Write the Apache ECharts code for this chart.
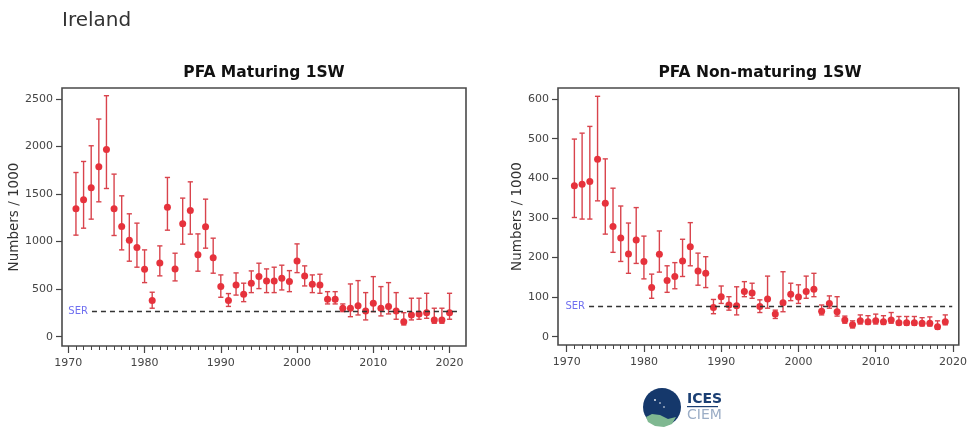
<!DOCTYPE html>
<html>
<head>
<meta charset="utf-8">
<script src="https://cdn.jsdelivr.net/npm/echarts@6/dist/echarts.min.js"></script>
<style>
  html, body { margin: 0; padding: 0; background: #ffffff; }
  #chart { width: 970px; height: 428px; }
</style>
</head>
<body>
<div id="chart"></div>
<script>
// ---------- DATA ----------
const countryTitle = 'Ireland';
const panelTitles = ['PFA Maturing 1SW', 'PFA Non-maturing 1SW'];
const yAxisName = 'Numbers / 1000';
const serLabel = 'SER';

const decadeTicks = [1970, 1980, 1990, 2000, 2010, 2020];
const yearTicks = [1970,1971,1972,1973,1974,1975,1976,1977,1978,1979,1980,1981,1982,1983,1984,1985,1986,1987,1988,1989,1990,1991,1992,1993,1994,1995,1996,1997,1998,1999,2000,2001,2002,2003,2004,2005,2006,2007,2008,2009,2010,2011,2012,2013,2014,2015,2016,2017,2018,2019,2020];
const yTicksMat = [0, 500, 1000, 1500, 2000, 2500];
const yTicksNon = [0, 100, 200, 300, 400, 500, 600];

// Maturing 1SW (1971-2020)
const yearsMat = [1971,1972,1973,1974,1975,1976,1977,1978,1979,1980,1981,1982,1983,1984,1985,1986,1987,1988,1989,1990,1991,1992,1993,1994,1995,1996,1997,1998,1999,2000,2001,2002,2003,2004,2005,2006,2007,2008,2009,2010,2011,2012,2013,2014,2015,2016,2017,2018,2019,2020];
const midMat = [1343,1438,1564,1785,1967,1343,1157,1014,936,709,379,775,1361,712,1186,1326,860,1155,830,526,380,542,446,562,631,586,586,614,579,796,638,551,544,393,393,299,299,326,270,351,299,316,270,158,228,239,252,176,176,252];
const lowMat = [1067,1140,1235,1417,1557,1063,912,793,730,568,299,639,1119,586,972,1077,688,930,667,414,318,437,368,463,505,463,463,491,473,673,533,463,456,344,344,263,210,228,176,263,218,239,183,123,176,183,193,141,141,183];
const highMat = [1725,1841,2006,2287,2532,1708,1480,1291,1193,912,467,954,1673,877,1456,1627,1080,1445,1035,649,453,670,562,691,772,712,730,751,694,975,744,649,656,473,473,344,554,589,463,631,526,568,463,252,404,404,456,299,299,456];
const serMat = 265;
const serMatSpan = [1973.1, 2021.3];

// Non-maturing 1SW (1971-2019)
const yearsNon = [1971,1972,1973,1974,1975,1976,1977,1978,1979,1980,1981,1982,1983,1984,1985,1986,1987,1988,1989,1990,1991,1992,1993,1994,1995,1996,1997,1998,1999,2000,2001,2002,2003,2004,2005,2006,2007,2008,2009,2010,2011,2012,2013,2014,2015,2016,2017,2018,2019];
const midNon = [381,385,392,448,337,278,249,209,244,190,124,208,142,152,191,227,166,160,74,101,80,78,114,110,76,95,57,86,107,100,114,120,64,84,63,42,30,40,38,40,38,42,35,35,35,34,34,25,38];
const lowNon = [301,297,297,343,259,213,190,160,185,146,97,163,112,121,152,179,130,124,58,84,67,55,101,97,61,72,46,63,91,84,97,101,55,72,52,34,22,32,31,32,31,34,30,29,29,27,27,19,30];
const highNon = [499,514,531,607,449,375,330,287,326,254,158,267,179,187,246,288,211,202,94,128,101,126,139,135,93,153,67,164,135,131,153,160,80,103,101,52,40,55,53,57,53,61,51,51,51,48,50,40,55];
const serNon = 76;
const serNonSpan = [1972.9, 2019.9];

// ---------- STYLE ----------
const FONT = 'DejaVu Sans';
const pointColor = '#e6323c';
const barColor = '#d9434c';
const axisColor = '#444444';
const frameColor = '#4a4a4a';
const serColor = '#6f6ff0';

const chart = echarts.init(document.getElementById('chart'), null, { renderer: 'canvas' });

function errorRender(params, api) {
  const x = api.value(0);
  const lo = api.coord([x, api.value(1)]);
  const hi = api.coord([x, api.value(2)]);
  const w = 2.6;
  const st = { stroke: barColor, lineWidth: 1.4 };
  return {
    type: 'group',
    children: [
      { type: 'line', shape: { x1: lo[0], y1: lo[1], x2: hi[0], y2: hi[1] }, style: st },
      { type: 'line', shape: { x1: lo[0] - w, y1: lo[1], x2: lo[0] + w, y2: lo[1] }, style: st },
      { type: 'line', shape: { x1: hi[0] - w, y1: hi[1], x2: hi[0] + w, y2: hi[1] }, style: st }
    ]
  };
}

const plainNum = v => String(Math.round(v));

function majorX(gridIndex, min, max) {
  return {
    type: 'value', gridIndex, min, max, position: 'bottom',
    axisLine: { show: false, onZero: false },
    axisTick: { show: true, length: 7, customValues: decadeTicks, lineStyle: { color: axisColor, width: 1.2 } },
    axisLabel: { show: true, customValues: decadeTicks, formatter: plainNum, margin: 12, color: axisColor, fontSize: 11, fontFamily: FONT },
    splitLine: { show: false }
  };
}
function minorX(gridIndex, min, max) {
  return {
    type: 'value', gridIndex, min, max, position: 'bottom',
    axisLine: { show: false, onZero: false },
    axisTick: { show: true, length: 4, customValues: yearTicks, lineStyle: { color: axisColor, width: 1 } },
    axisLabel: { show: false },
    splitLine: { show: false }
  };
}
function yAx(gridIndex, min, max, ticks) {
  return {
    type: 'value', gridIndex, min, max,
    axisLine: { show: false, onZero: false },
    axisTick: { show: true, length: 6, customValues: ticks, lineStyle: { color: axisColor, width: 1.2 } },
    axisLabel: { show: true, customValues: ticks, formatter: plainNum, margin: 9, color: axisColor, fontSize: 11, fontFamily: FONT },
    splitLine: { show: false },
    name: yAxisName, nameLocation: 'middle', nameGap: 31, nameRotate: 90,
    nameTextStyle: { color: '#333', fontSize: 13.5, fontFamily: FONT }
  };
}

function serMarkLine(value, span) {
  return {
    silent: true, symbol: 'none', animation: false,
    lineStyle: { type: [5, 4], color: '#333', width: 1.3 },
    label: { show: true, position: 'start', formatter: serLabel, color: serColor, fontSize: 10, fontFamily: FONT, distance: 4 },
    data: [[{ coord: [span[0], value] }, { coord: [span[1], value] }]]
  };
}

const option = {
  animation: false,
  backgroundColor: '#ffffff',
  grid: [
    { left: 62, top: 88, width: 404, height: 258, show: true, borderColor: frameColor, borderWidth: 1.6, backgroundColor: 'transparent' },
    { left: 558, top: 88, width: 404, height: 257, show: true, borderColor: frameColor, borderWidth: 1.6, backgroundColor: 'transparent' }
  ],
  xAxis: [
    majorX(0, 1969.17, 2022.16),
    minorX(0, 1969.17, 2022.16),
    majorX(1, 1968.88, 2020.75),
    minorX(1, 1968.88, 2020.75)
  ],
  yAxis: [
    yAx(0, -98, 2613, yTicksMat),
    yAx(1, -21, 628, yTicksNon)
  ],
  series: [
    {
      type: 'custom', xAxisIndex: 0, yAxisIndex: 0, renderItem: errorRender,
      data: yearsMat.map((y, i) => [y, lowMat[i], highMat[i]]), z: 2
    },
    {
      type: 'scatter', xAxisIndex: 0, yAxisIndex: 0, symbolSize: 7,
      itemStyle: { color: pointColor, opacity: 1 },
      data: yearsMat.map((y, i) => [y, midMat[i]]), z: 3,
      markLine: serMarkLine(serMat, serMatSpan)
    },
    {
      type: 'custom', xAxisIndex: 2, yAxisIndex: 1, renderItem: errorRender,
      data: yearsNon.map((y, i) => [y, lowNon[i], highNon[i]]), z: 2
    },
    {
      type: 'scatter', xAxisIndex: 2, yAxisIndex: 1, symbolSize: 7,
      itemStyle: { color: pointColor, opacity: 1 },
      data: yearsNon.map((y, i) => [y, midNon[i]]), z: 3,
      markLine: serMarkLine(serNon, serNonSpan)
    }
  ],
  graphic: [
    { type: 'text', left: 62, top: 11, style: { text: countryTitle, font: '20px "DejaVu Sans"', fill: '#333' } },
    { type: 'text', x: 264, y: 73, style: { text: panelTitles[0], font: 'bold 15.5px "DejaVu Sans"', fill: '#111', textAlign: 'center', textVerticalAlign: 'middle' } },
    { type: 'text', x: 760, y: 73, style: { text: panelTitles[1], font: 'bold 15.5px "DejaVu Sans"', fill: '#111', textAlign: 'center', textVerticalAlign: 'middle' } },
    // ICES logo
    { type: 'circle', shape: { cx: 662, cy: 407, r: 19 }, style: { fill: '#15386b' } },
    { type: 'polygon', shape: { points: [[646, 417], [652, 414], [660, 415], [668, 419], [676, 417], [672, 424], [664, 427], [655, 426], [648, 422]] }, style: { fill: '#7fb891' } },
    { type: 'circle', shape: { cx: 655, cy: 400, r: 0.9 }, style: { fill: '#ffffff' } },
    { type: 'circle', shape: { cx: 660, cy: 403, r: 0.8 }, style: { fill: '#ffffff' } },
    { type: 'circle', shape: { cx: 664, cy: 407, r: 0.8 }, style: { fill: '#ffffff' } },
    { type: 'text', x: 687, y: 392, style: { text: 'ICES', font: 'bold 14px "DejaVu Sans"', fill: '#1b3f73' } },
    { type: 'rect', shape: { x: 687, y: 406, width: 31, height: 1.2 }, style: { fill: '#1b3f73' } },
    { type: 'text', x: 687, y: 408, style: { text: 'CIEM', font: '14px "DejaVu Sans"', fill: '#9badc6' } }
  ]
};

chart.setOption(option);
</script>
</body>
</html>
